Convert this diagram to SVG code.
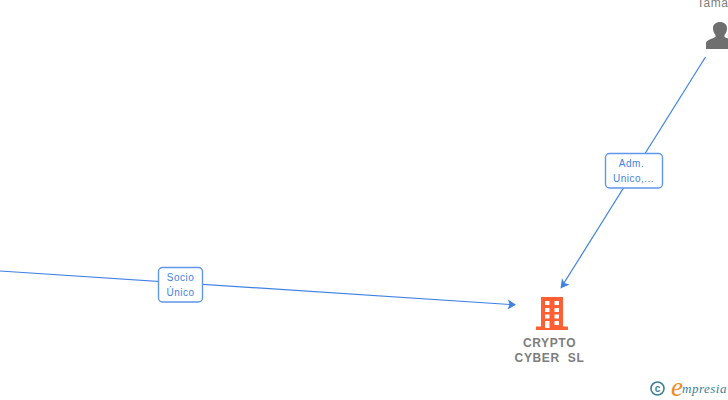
<svg xmlns="http://www.w3.org/2000/svg" width="728" height="400" viewBox="0 0 728 400">
<defs>
<style>
.edge{fill:none;stroke:#3f82e4;stroke-width:1.2}
.head{fill:#3f82e4}
.box{fill:#fff;stroke:#5f97e8;stroke-width:1.4}
.lbl{font:10px "Liberation Sans",Arial,sans-serif;fill:#3f82e4;text-anchor:middle;letter-spacing:.5px}
.name{font:bold 12px "Liberation Sans",Arial,sans-serif;fill:#7d7d7d;text-anchor:middle;letter-spacing:.65px}
</style>
</defs>
<rect width="728" height="400" fill="#fff"/>
<g id="connectors">
<path class="edge" d="M0 271L510 304.500"/>
<path class="head" d="M516 304.800L508 299.500L509.500 304.500L507.500 309.500Z"/>
<path class="edge" d="M705.500 57L564 283"/>
<path class="head" d="M560.500 288.500L569.500 284.500L564.300 283L562 278Z"/>
</g>
<g id="label-socio">
<rect class="box" x="158.500" y="267.500" width="44" height="34.500" rx="4"/>
<text class="lbl" x="180.500" y="281">Socio</text>
<text class="lbl" x="180.500" y="296">Único</text>
</g>
<g id="label-adm">
<rect class="box" x="605.500" y="153.500" width="57" height="34.500" rx="4"/>
<text class="lbl" x="631.500" y="167">Adm.</text>
<text class="lbl" x="633.500" y="182">Unico,...</text>
</g>
<g id="node-person">
<text x="697" y="7" style="font:12px 'Liberation Sans',Arial,sans-serif;fill:#7d7d7d;letter-spacing:.5px">Tama</text>
<path fill="#6f6f6f" d="M706 49L706 43C706 40 713 38.500 715.500 37L715.500 35C713.500 33 713 30 713 28C713 24.500 716 22 720 22C724 22 727 24.500 727 28C727 30 726.500 33 724.500 35L724.500 37C727 38.500 734 40 734 43L734 49Z"/>
</g>
<g id="node-crypto">
<path fill="#ff5f33" d="M541 297H563V326.500H568V330H536V326.500H541Z"/>
<g fill="#fff">
<rect x="545" y="301" width="4.500" height="4"/><rect x="554.500" y="301" width="4.500" height="4"/>
<rect x="545" y="308" width="4.500" height="4"/><rect x="554.500" y="308" width="4.500" height="4"/>
<rect x="545" y="314.500" width="4.500" height="4"/><rect x="554.500" y="314.500" width="4.500" height="4"/>
<rect x="545" y="321" width="4.500" height="7"/><rect x="554.500" y="321" width="4.500" height="4"/>
</g>
<text class="name" x="549.500" y="347">CRYPTO</text>
<text class="name" x="549.500" y="362" xml:space="preserve">CYBER  SL</text>
</g>
<g id="logo">
<circle cx="657.500" cy="388.500" r="6.500" fill="none" stroke="#3c7f96" stroke-width="1.600"/>
<text x="657.500" y="392" style="font:bold 10px 'Liberation Sans',Arial,sans-serif;fill:#3c7f96;text-anchor:middle">c</text>
<text x="671" y="396" style="font:italic 27px 'Liberation Serif',serif;fill:#f08a1d">e</text>
<text x="682" y="393" style="font:italic 13px 'Liberation Serif',serif;fill:#3c7f96;letter-spacing:.5px">mpresia</text>
</g>
</svg>
